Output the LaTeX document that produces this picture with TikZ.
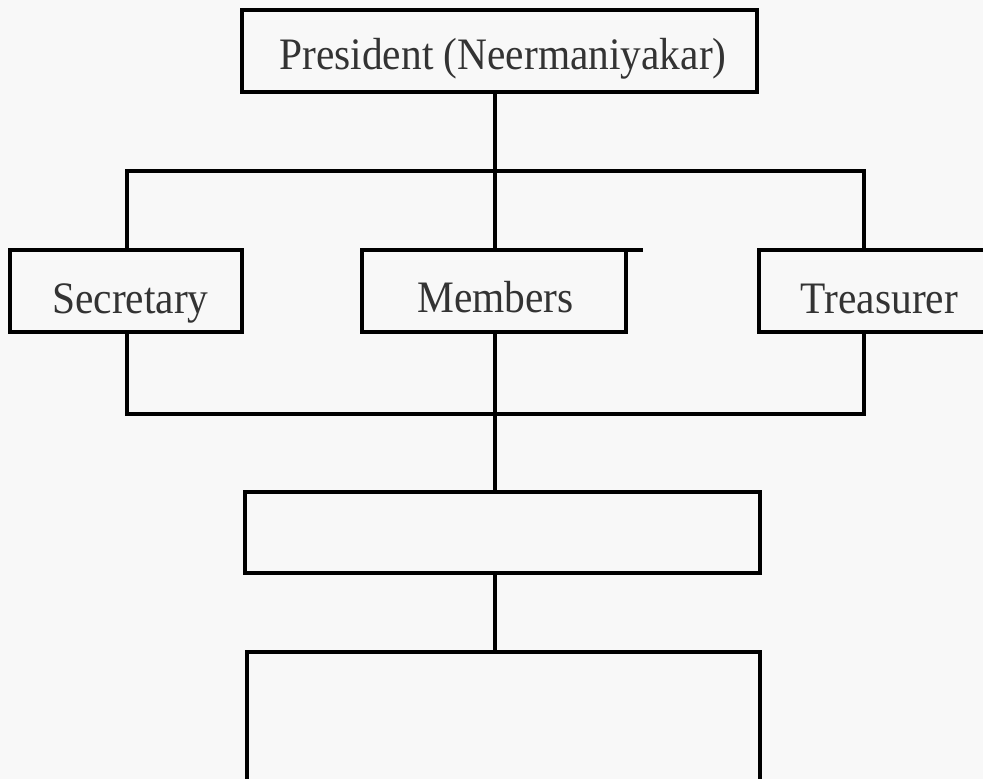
\documentclass[tikz,border=0pt]{standalone}
\usepackage{fontspec}
\setmainfont[FakeStretch=0.92]{Liberation Serif}
\definecolor{bg}{HTML}{F8F8F8}
\definecolor{txt}{HTML}{333333}
\begin{document}
\begin{tikzpicture}[x=1pt,y=-1pt,line width=3.6pt,line join=miter,
  box/.style={draw,inner sep=0pt,outer sep=0pt},
  openbox/.style={inner sep=0pt,outer sep=0pt},
  lbl/.style={anchor=base,text=txt,font=\fontsize{45}{54}\selectfont,inner sep=0pt}]
\fill[bg] (0,0) rectangle (983,779);
\useasboundingbox (0,0) rectangle (983,779);
% boxes
\node[box,minimum width=515pt,minimum height=82pt] (pres) at (499.5,51) {};
\node[box,minimum width=232pt,minimum height=82pt] (sec) at (126,291) {};
\node[box,minimum width=264pt,minimum height=82pt] (mem) at (494,291) {};
\node[openbox,minimum width=226pt,minimum height=82pt] (trea) at (872,291) {};
\node[box,minimum width=515pt,minimum height=81pt] (b4) at (502.5,532.5) {};
\node[openbox,minimum width=513pt,minimum height=138pt] (b5) at (503.5,721) {};
\draw (trea.north east) -- (trea.north west) -- (trea.south west) -- (trea.south east);
\draw (b5.south west) -- (b5.north west) -- (b5.north east) -- (b5.south east);
\coordinate (memx) at (643,250);
\draw (mem.north east) -- (memx);
% labels
\node[lbl] (prest) at (503,69) {President (Neermaniyakar)};
\node[lbl] (sect) at (130.5,313) {Secretary};
\node[lbl] (memt) at (495.5,312) {Members};
\node[lbl] (treat) at (879.5,313) {Treasurer};
% connectors
\coordinate (jt) at (495,171);
\coordinate (jtl) at (127,171);
\coordinate (jtr) at (864,171);
\coordinate (jb) at (495,414);
\coordinate (jbl) at (127,414);
\coordinate (jbr) at (864,414);
\draw (jt |- pres.south) -- (jt);
\draw (jtl |- sec.north) -- (jtl) -- (jtr) -- (jtr |- trea.north);
\draw (jt) -- (jt |- mem.north);
\draw (jbl |- sec.south) -- (jbl) -- (jbr) -- (jbr |- trea.south);
\draw (jb |- mem.south) -- (jb |- b4.north);
\draw (jb |- b4.south) -- (jb |- b5.north);
\end{tikzpicture}
\end{document}
